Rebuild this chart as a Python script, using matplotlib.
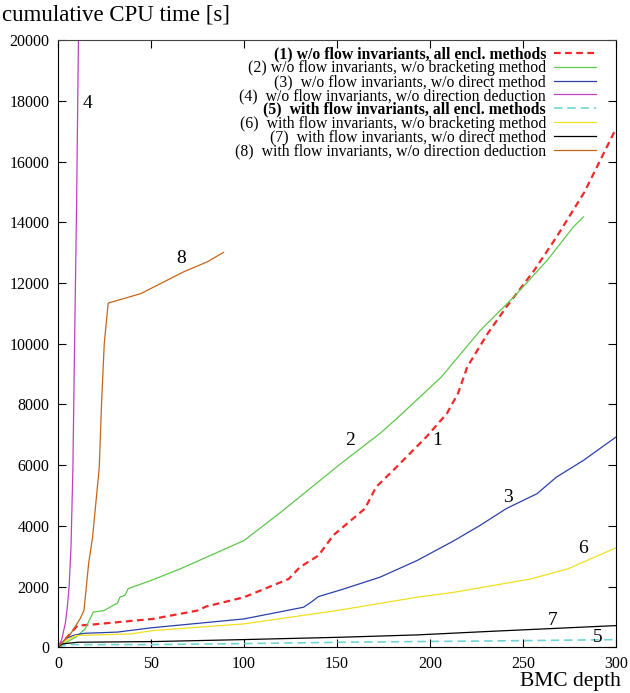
import numpy as np
import matplotlib
matplotlib.use("Agg")
import matplotlib.pyplot as plt

plt.rcParams['font.family'] = ['Liberation Serif', 'DejaVu Serif']

# series (BMC depth, cumulative CPU time [s])
x1 = [0, 5, 10.5, 17, 51, 75, 79.5, 100, 124, 130, 140, 148, 165, 171, 182, 198, 209, 215, 220, 231, 241, 256, 268, 283, 300]
y1 = [0, 340, 714, 740, 934, 1209, 1340, 1648, 2250, 2637, 3022, 3690, 4570, 5280, 5940, 6930, 7700, 8360, 9240, 10340, 11210, 12420, 13520, 15000, 17100]

x2 = [0, 9.7, 14.6, 19, 24.7, 32, 33.3, 36, 37.7, 50, 66, 100, 120, 152, 173, 182, 206, 227, 245, 263, 277, 282.5]
y2 = [0, 340, 604, 1160, 1209, 1460, 1650, 1710, 1930, 2200, 2590, 3516, 4460, 6050, 7040, 7530, 8900, 10440, 11540, 12750, 13850, 14180]

x3 = [0, 4.3, 8.8, 14.2, 32, 50, 100, 132, 136, 140, 152, 173, 193, 213, 227, 241, 257.5, 268, 282.5, 300]
y3 = [0, 290, 400, 460, 500, 640, 934, 1319, 1483, 1670, 1890, 2307, 2857, 3516, 4020, 4570, 5060, 5610, 6160, 6930]

x4 = [0, 2, 4, 5, 6, 7, 8, 9, 10, 11]
y4 = [0, 250, 800, 1300, 2000, 3300, 5800, 10300, 14500, 20000]

x5 = [0, 4.5, 51, 100, 152, 193, 254, 300]
y5 = [0, 88, 88, 121, 165, 187, 220, 253]

x6 = [0, 4.5, 9.5, 39, 51, 100, 152, 193, 213, 254, 274, 300]
y6 = [0, 220, 385, 440, 550, 770, 1230, 1648, 1813, 2250, 2582, 3280]

x7 = [0, 2.4, 10.5, 51, 100, 152, 193, 233.5, 300]
y7 = [0, 110, 165, 187, 253, 330, 407, 527, 714]

x8 = [0, 7, 12, 14, 16.5, 18.6, 22.2, 23.5, 24.9, 27, 44.5, 57, 67.6, 80.3, 89]
y8 = [0, 460, 950, 1220, 2770, 3620, 5930, 8140, 10020, 11340, 11650, 12040, 12370, 12700, 13010]

labels = [
    "(1) w/o flow invariants, all encl. methods",
    "(2) w/o flow invariants, w/o bracketing method",
    "(3)  w/o flow invariants, w/o direct method",
    "(4)  w/o flow invariants, w/o direction deduction",
    "(5)  with flow invariants, all encl. methods",
    "(6)  with flow invariants, w/o bracketing method",
    "(7)  with flow invariants, w/o direct method",
    "(8)  with flow invariants, w/o direction deduction",
]
tags = ["1", "2", "3", "4", "5", "6", "7", "8"]
tag_x = [204, 157, 242, 16, 290, 282, 266, 66]
tag_y = [6800, 6800, 4940, 17900, 330, 3260, 890, 12800]

colors = ['#f02828', '#5cc84a', '#2a40a8', '#c040c0', '#70d4d4', '#f0e020', '#000000', '#c86418']
styles = [(0, (3, 2)), '-', '-', '-', (0, (5, 3)), '-', '-', '-']
widths = [1.6, 0.9, 0.9, 0.9, 1.2, 0.9, 0.9, 0.9]

xs = [x1, x2, x3, x4, x5, x6, x7, x8]
ys = [y1, y2, y3, y4, y5, y6, y7, y8]

fig = plt.figure(figsize=(6.3, 6.93), dpi=100)
ax = fig.add_axes([0.092, 0.066, 0.886, 0.876])

for i in range(8):
    ax.plot(xs[i], ys[i], color=colors[i], linestyle=styles[i], lw=widths[i], label=labels[i])
    ax.text(tag_x[i], tag_y[i], tags[i], fontsize=14, ha='center', va='center')

ax.set_xlim(0, 300)
ax.set_ylim(0, 20000)
ax.set_xticks(np.arange(0, 301, 50))
ax.set_yticks(np.arange(0, 20001, 2000))
ax.tick_params(direction='in', top=True, right=True, length=6, labelsize=11.5, width=0.8, pad=6)
ax.spines['top'].set_linestyle((0, (4, 1)))
ax.spines['top'].set_color('#444444')

fig.text(0.003, 0.978, "cumulative CPU time [s]", fontsize=16.5, ha='left', va='center')
fig.text(0.986, 0.016, "BMC depth", fontsize=15.5, ha='right', va='center')

leg = ax.legend(loc='upper right', bbox_to_anchor=(0.981, 1.005), frameon=False, markerfirst=False,
                fontsize=11.3, handlelength=2.7, handletextpad=0.5, labelspacing=-0.14,
                borderaxespad=0.2)
for i, t in enumerate(leg.get_texts()):
    t.set_ha('right')
    if i in (0, 4):
        t.set_fontweight('bold')

fig.savefig("out.png", dpi=100)
